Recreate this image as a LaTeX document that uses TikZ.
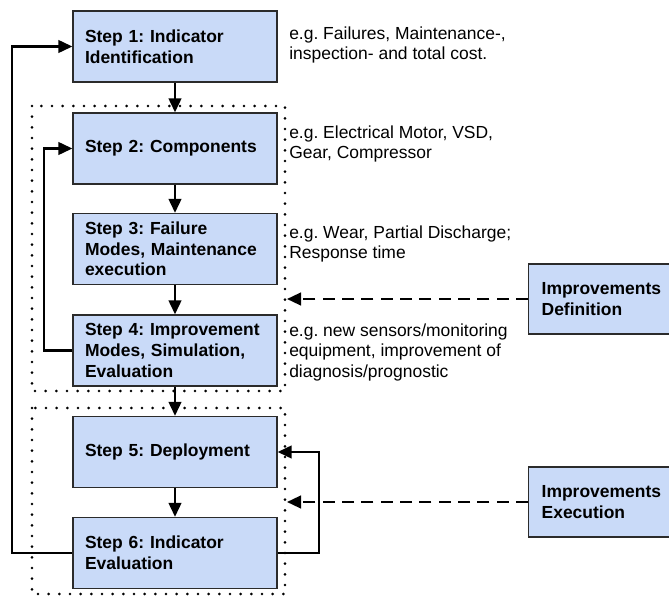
\documentclass[tikz,border=0pt]{standalone}
\usepackage{fontspec}
\setmainfont{Liberation Sans}
\usetikzlibrary{arrows.meta}
\definecolor{boxfill}{HTML}{C9DAF8}
\definecolor{boxline}{HTML}{2B2B2B}
\frenchspacing
\begin{document}
\begin{tikzpicture}[x=0.75pt,y=-0.75pt,
  stepbox/.style={draw=boxline, fill=boxfill, line width=1pt,
    minimum height=53.25pt, inner xsep=9pt, inner ysep=0pt,
    text width=135pt, align=left,
    font=\fontsize{13.1pt}{15.4pt}\selectfont\bfseries},
  impbox/.style={stepbox, anchor=west, text width=95pt, inner xsep=9.75pt,
    minimum height=52.5pt},
  note/.style={anchor=north west, inner sep=0pt, align=left,
    font=\fontsize{13.1pt}{15.4pt}\selectfont},
  flow/.style={line width=1.7pt, -{Triangle[length=10.5pt,width=9.5pt]}},
  dashflow/.style={flow, dash pattern=on 9pt off 5.5pt},
  dotframe/.style={line width=2.2pt, line cap=round, dash pattern=on 0pt off 8pt}]

\useasboundingbox (0,0) rectangle (669,596);

% phase frames
\draw[dotframe] (32,106) rectangle (285,391);
\draw[dotframe] (32,408) rectangle (285,594);

% process steps
\node[stepbox] (s1) at (175,46.5) {Step 1: Indicator\\Identification};
\node[stepbox] (s2) at (175,148.5) {Step 2: Components};
\node[stepbox] (s3) at (175,249) {Step 3: Failure\\Modes, Maintenance\\execution};
\node[stepbox] (s4) at (175,350.5) {Step 4: Improvement\\Modes, Simulation,\\Evaluation};
\node[stepbox] (s5) at (175,452) {Step 5: Deployment};
\node[stepbox] (s6) at (175,553) {Step 6: Indicator\\Evaluation};

% external inputs
\node[impbox] (idef) at (528,299) {Improvements\\Definition};
\node[impbox] (iexe) at (528,502) {Improvements\\Execution};

% examples
\node[note] (n1) at (289,26.5) {e.g. Failures, Maintenance-,\\inspection- and total cost.};
\node[note] (n2) at (289,125.3) {e.g. Electrical Motor, VSD,\\Gear, Compressor};
\node[note] (n3) at (289,225.5) {e.g. Wear, Partial Discharge;\\Response time};
\node[note] (n4) at (289,323.5) {e.g. new sensors/monitoring\\equipment, improvement of\\diagnosis/prognostic};

% main flow
\draw[flow] (s1.south) -- (s2.north);
\draw[flow] (s2.south) -- (s3.north);
\draw[flow] (s3.south) -- (s4.north);
\draw[flow] (s4.south) -- (s5.north);
\draw[flow] (s5.south) -- (s6.north);

% feedback loops
\draw[flow] (s6.west) -- ++(-60,0) |- (s1.west);
\draw[flow] (s4.west) -- ++(-28,0) |- (s2.west);
\draw[flow] (s6.east) -- ++(41,0) |- (s5.east);

% improvement inputs
\coordinate (d1) at (287,299);
\coordinate (d2) at (287,502);
\draw[dashflow] (idef.west) -- (d1);
\draw[dashflow] (iexe.west) -- (d2);
\end{tikzpicture}
\end{document}
